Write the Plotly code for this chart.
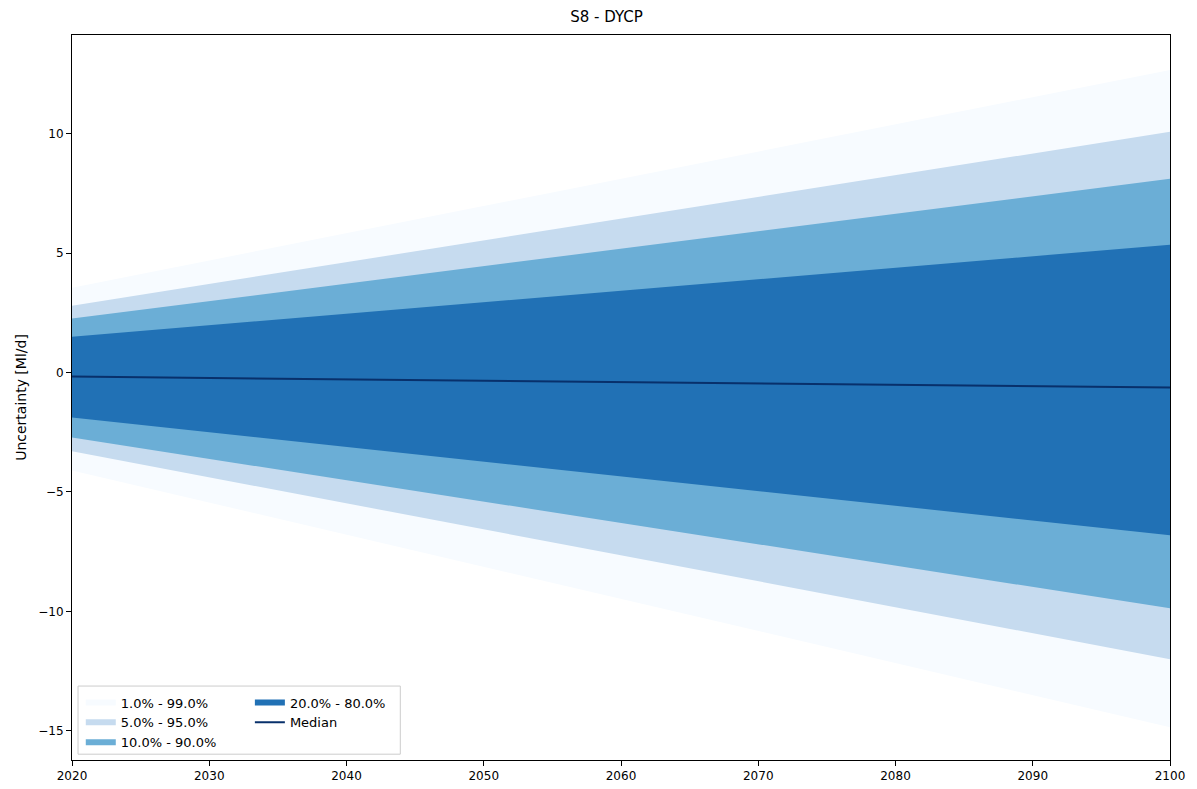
import plotly.graph_objects as go

years = [2020, 2100]
bands = ["1.0% - 99.0%", "5.0% - 95.0%", "10.0% - 90.0%", "20.0% - 80.0%"]
upper = [[3.55, 12.67], [2.8, 10.08], [2.26, 8.11], [1.5, 5.35]]
lower = [[-4.1, -14.85], [-3.3, -12.0], [-2.72, -9.87], [-1.88, -6.81]]
median = [-0.17, -0.63]
colors = ["#f7fbff", "#c6dbef", "#6baed6", "#2171b5"]

fig = go.Figure()
for i, name in enumerate(bands):
    fig.add_trace(go.Scatter(
        x=years + years[::-1], y=upper[i] + lower[i][::-1],
        fill="toself", fillcolor=colors[i], mode="none", name=name,
        legend="legend" if i < 3 else "legend2", hoverinfo="skip"))
fig.add_trace(go.Scatter(x=years, y=median, mode="lines", name="Median",
                         line=dict(color="#08306b", width=2), legend="legend2"))

axis = dict(showline=True, linecolor="black", mirror=True, ticks="outside",
            showgrid=False, zeroline=False, tickcolor="black")
leg = dict(yanchor="top", y=0.1, bgcolor="rgba(0,0,0,0)", tracegroupgap=0,
           font=dict(size=13), itemwidth=30)
fig.update_layout(
    width=1197, height=789, plot_bgcolor="white", paper_bgcolor="white",
    font=dict(family="DejaVu Sans", size=12, color="black"),
    title=dict(text="S8 - DYCP", x=0.5, y=0.995, yanchor="top", font=dict(size=15)),
    margin=dict(l=64, r=35, t=27, b=37),
    xaxis=dict(range=[2020, 2100], dtick=10, **axis),
    yaxis=dict(range=[-16.22, 14.13], tickvals=[-15, -10, -5, 0, 5, 10],
               ticktext=["−15", "−10", "−5", "0", "5", "10"],
               title=dict(text="Uncertainty [Ml/d]", standoff=8), **axis),
    legend=dict(x=0.008, **leg),
    legend2=dict(x=0.162, **leg),
    shapes=[dict(type="rect", xref="paper", yref="paper", x0=0.0055, x1=0.299,
                 y0=0.008, y1=0.102, line=dict(color="#cccccc", width=1),
                 fillcolor="rgba(255,255,255,0.8)", layer="above")],
)
fig.write_html("out.html")
